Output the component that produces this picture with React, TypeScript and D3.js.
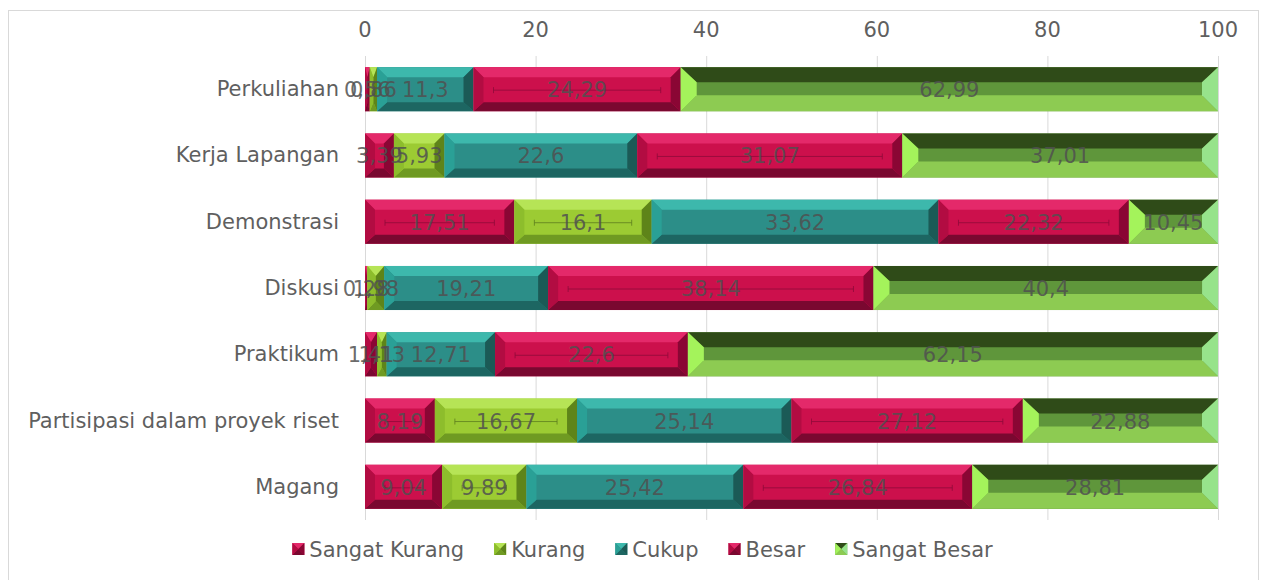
import { useEffect, useRef } from 'react';
import * as d3 from 'd3';

const categories = [
  'Perkuliahan',
  'Kerja Lapangan',
  'Demonstrasi',
  'Diskusi',
  'Praktikum',
  'Partisipasi dalam proyek riset',
  'Magang',
];
const seriesNames = ['Sangat Kurang', 'Kurang', 'Cukup', 'Besar', 'Sangat Besar'];
const sangatKurang = [0.56, 3.39, 17.51, 0.28, 1.41, 8.19, 9.04];
const kurang = [0.86, 5.93, 16.1, 1.98, 1.13, 16.67, 9.89];
const cukup = [11.3, 22.6, 33.62, 19.21, 12.71, 25.14, 25.42];
const besar = [24.29, 31.07, 22.32, 38.14, 22.6, 27.12, 26.84];
const sangatBesar = [62.99, 37.01, 10.45, 40.4, 62.15, 22.88, 28.81];
const xTicks = [0, 20, 40, 60, 80, 100];

const seriesValues = [sangatKurang, kurang, cukup, besar, sangatBesar];

type Skin = { face: string; top: string; bottom: string; left: string; right: string; bh: number; bt: number; bb: number; line?: string };

const crimson: Skin = { face: '#CC104C', top: '#E4296A', bottom: '#7A0830', left: '#B20C42', right: '#8A0634', bh: 10, bt: 10, bb: 9, line: '#8E0A3A' };
const skins: Skin[] = [
  crimson,
  { face: '#9CCB33', top: '#B6E456', bottom: '#6F9A22', left: '#8DBD2C', right: '#5E8419', bh: 10, bt: 10, bb: 9, line: '#5E7E1E' },
  { face: '#2C8E88', top: '#3DB8AC', bottom: '#1D6662', left: '#2AA096', right: '#1B5A56', bh: 10, bt: 10, bb: 9 },
  crimson,
  { face: '#5F963B', top: '#2F4B18', bottom: '#8DCB52', left: '#A4F35B', right: '#97E38B', bh: 16, bt: 15, bb: 16 },
];

const FONT = '"DejaVu Sans", Verdana, sans-serif';
const FS = 21;
const TXT = '#5F5F5F';

function bevel(g: d3.Selection<SVGGElement, unknown, null, undefined>, x0: number, x1: number, y0: number, y1: number, s: Skin) {
  const w = x1 - x0;
  const h = y1 - y0;
  const bh = Math.min(s.bh, w / 2);
  const bt = Math.min(s.bt, h / 2);
  const bb = Math.min(s.bb, h / 2);
  const poly = (pts: number[][], fill: string) =>
    g.append('polygon').attr('points', pts.map(p => p.join(',')).join(' ')).attr('fill', fill);
  g.append('rect').attr('x', x0).attr('y', y0).attr('width', w).attr('height', h).attr('fill', s.face);
  poly([[x0, y0], [x1, y0], [x1 - bh, y0 + bt], [x0 + bh, y0 + bt]], s.top);
  poly([[x0, y1], [x1, y1], [x1 - bh, y1 - bb], [x0 + bh, y1 - bb]], s.bottom);
  poly([[x0, y0], [x0 + bh, y0 + bt], [x0 + bh, y1 - bb], [x0, y1]], s.left);
  poly([[x1, y0], [x1 - bh, y0 + bt], [x1 - bh, y1 - bb], [x1, y1]], s.right);
}

export default function App() {
  const ref = useRef<SVGSVGElement>(null);

  useEffect(() => {
    if (!ref.current) return;
    const svg = d3.select(ref.current);
    svg.selectAll('*').remove();

    const W = 1267, H = 580;
    svg.append('rect').attr('x', 8.5).attr('y', 10.5).attr('width', W - 17).attr('height', H).attr('fill', '#fff').attr('stroke', '#D9D9D9');

    const x = d3.scaleLinear().domain([0, 100]).range([365, 1218]);
    const y = d3.scaleBand<string>().domain(categories).range([56, 520]).paddingInner(0.335).paddingOuter(0.168);

    // grid
    svg.append('g').selectAll('line').data(xTicks).enter().append('line')
      .attr('x1', d => x(d) + 0.5).attr('x2', d => x(d) + 0.5).attr('y1', 56).attr('y2', 520)
      .attr('stroke', '#D9D9D9').attr('stroke-width', 1);

    svg.append('g').selectAll('text').data(xTicks).enter().append('text')
      .attr('x', d => x(d)).attr('y', 37).attr('text-anchor', 'middle')
      .attr('font-family', FONT).attr('font-size', FS).attr('fill', TXT).text(d => d);

    svg.append('g').selectAll('text').data(categories).enter().append('text')
      .attr('x', 339).attr('y', d => (y(d) ?? 0) + y.bandwidth() / 2 + 7).attr('text-anchor', 'end')
      .attr('font-family', FONT).attr('font-size', FS).attr('fill', TXT).text(d => d);

    const bars = svg.append('g');
    const labels = svg.append('g');
    categories.forEach((c, ci) => {
      let acc = 0;
      const y0 = y(c) ?? 0;
      const y1 = y0 + y.bandwidth();
      seriesValues.forEach((vals, si) => {
        const v = vals[ci];
        const xa = x(acc), xb = x(acc + v);
        const g = bars.append('g');
        bevel(g, xa, xb, y0, y1, skins[si]);
        const s = skins[si];
        if (s.line && xb - xa > 60) {
          const ym = (y0 + y1) / 2 + 1;
          g.append('path')
            .attr('d', `M${xa + 20},${ym - 3}V${ym + 3}M${xa + 20},${ym}H${xb - 20}M${xb - 20},${ym - 3}V${ym + 3}`)
            .attr('stroke', s.line).attr('stroke-width', 1).attr('fill', 'none').attr('opacity', 0.8);
        }
        labels.append('text')
          .attr('x', (xa + xb) / 2).attr('y', (y0 + y1) / 2 + 8).attr('text-anchor', 'middle')
          .attr('font-family', FONT).attr('font-size', FS).attr('fill', '#505050').attr('fill-opacity', 0.85)
          .text(String(v).replace('.', ','));
        acc += v;
      });
    });

    // legend
    const leg = svg.append('g');
    const tmp = leg.append('text').attr('font-family', FONT).attr('font-size', FS);
    const widths = seriesNames.map(n => {
      tmp.text(n);
      return (tmp.node() as SVGTextElement).getComputedTextLength();
    });
    tmp.remove();
    const gap = 30, mk = 12, mg = 5;
    const total = d3.sum(widths) + seriesNames.length * (mk + mg) + gap * (seriesNames.length - 1);
    let lx = (W - total) / 2 + 9;
    seriesNames.forEach((n, i) => {
      const gy = 549;
      const g = leg.append('g');
      bevel(g, lx, lx + mk, gy - mk / 2, gy + mk / 2, { ...skins[i], bh: 6, bt: 6, bb: 6 });
      leg.append('text').attr('x', lx + mk + mg).attr('y', gy + 7.5)
        .attr('font-family', FONT).attr('font-size', FS).attr('fill', TXT).text(n);
      lx += mk + mg + widths[i] + gap;
    });
  }, []);

  return <svg ref={ref} width={1267} height={580} style={{ position: 'absolute', left: 0, top: 0 }} />;
}
